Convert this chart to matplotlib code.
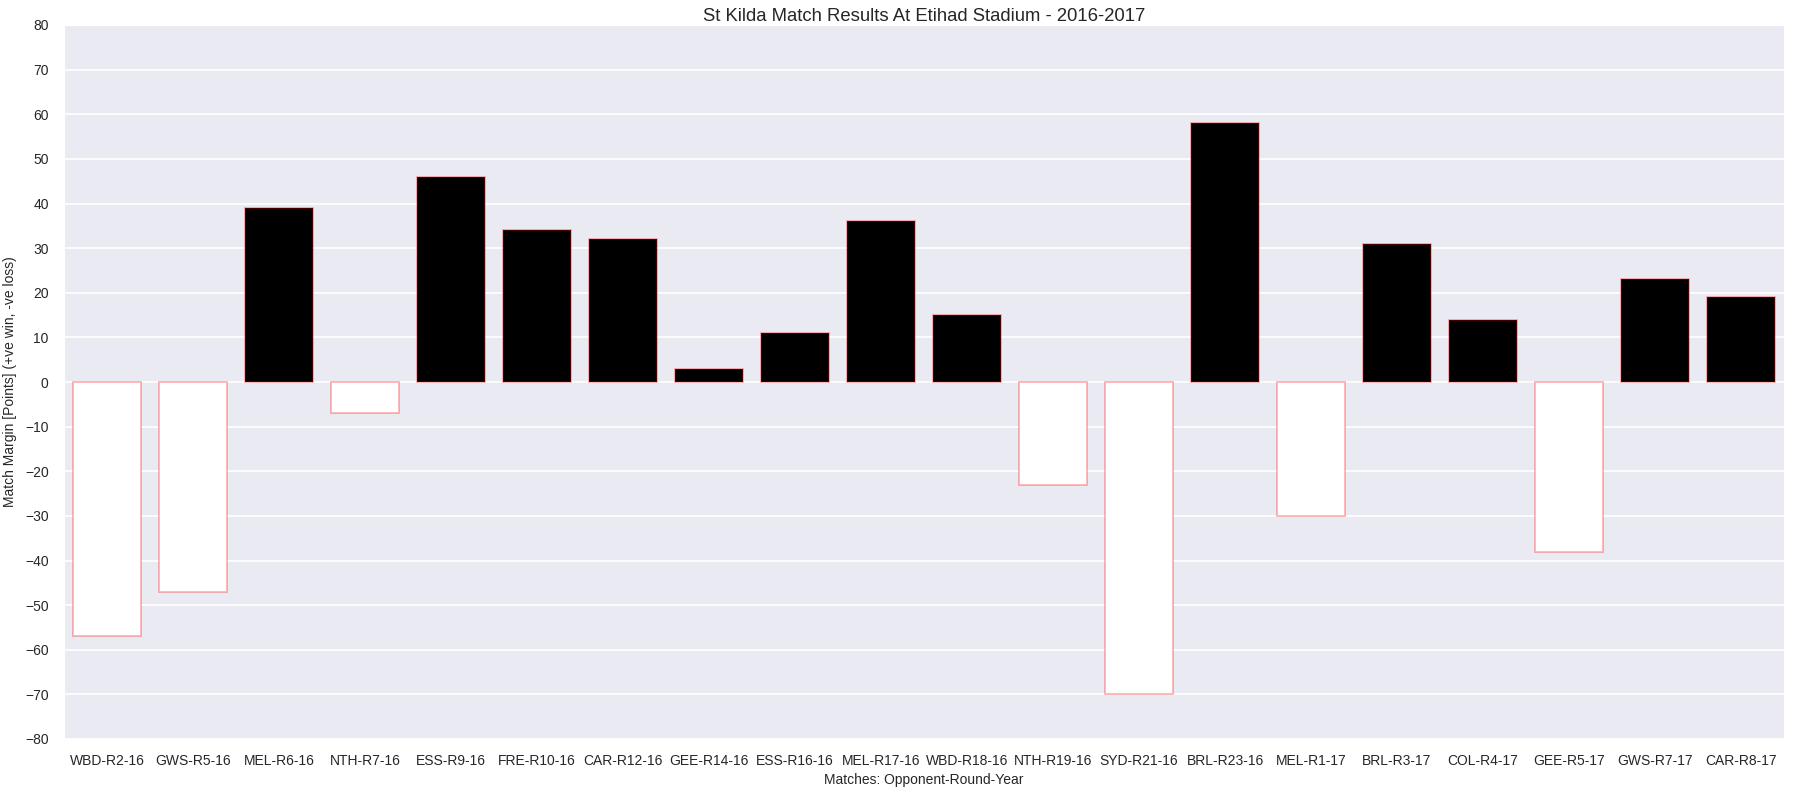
import numpy as np
import matplotlib.pyplot as plt
import seaborn as sns

sns.set_style('darkgrid')
plt.rcParams['font.family'] = ['Liberation Sans', 'DejaVu Sans']

matches = ['WBD-R2-16', 'GWS-R5-16', 'MEL-R6-16', 'NTH-R7-16', 'ESS-R9-16',
           'FRE-R10-16', 'CAR-R12-16', 'GEE-R14-16', 'ESS-R16-16', 'MEL-R17-16',
           'WBD-R18-16', 'NTH-R19-16', 'SYD-R21-16', 'BRL-R23-16', 'MEL-R1-17',
           'BRL-R3-17', 'COL-R4-17', 'GEE-R5-17', 'GWS-R7-17', 'CAR-R8-17']
margin = [-57, -47, 39, -7, 46, 34, 32, 3, 11, 36,
          15, -23, -70, 58, -30, 31, 14, -38, 23, 19]

margin = np.array(margin)
x = np.arange(len(matches))
win = margin > 0
edge = (1.0, 0.0, 0.0, 0.3)

fig, ax = plt.subplots(figsize=(18, 8), dpi=100)
# wins black, losses white
ax.bar(x[win], margin[win], width=0.8, color='black', edgecolor=edge, linewidth=1.3, zorder=3)
ax.bar(x[~win], margin[~win], width=0.8, color='white', edgecolor=edge, linewidth=1.3, zorder=3)

ax.set_xticks(x)
ax.set_xticklabels(matches, fontsize=10)
ax.set_xlim(-0.5, len(matches) - 0.5)
ax.set_ylim(-80, 80)
ax.set_yticks(np.arange(-80, 81, 10))
ax.tick_params(axis='y', labelsize=10, pad=7.5)
ax.tick_params(axis='x', pad=7)
ax.grid(axis='x', visible=False)
ax.grid(axis='y', color='white', linewidth=1.2)
ax.set_xlabel('Matches: Opponent-Round-Year', fontsize=10, labelpad=4)
ax.set_ylabel('Match Margin [Points] (+ve win, -ve loss)', fontsize=10, labelpad=6)
ax.set_title('St Kilda Match Results At Etihad Stadium - 2016-2017', fontsize=13.3, pad=3)

fig.subplots_adjust(left=64 / 1800, right=1784 / 1800, top=1 - 25 / 800, bottom=1 - 739 / 800)
fig.savefig('out.png')
